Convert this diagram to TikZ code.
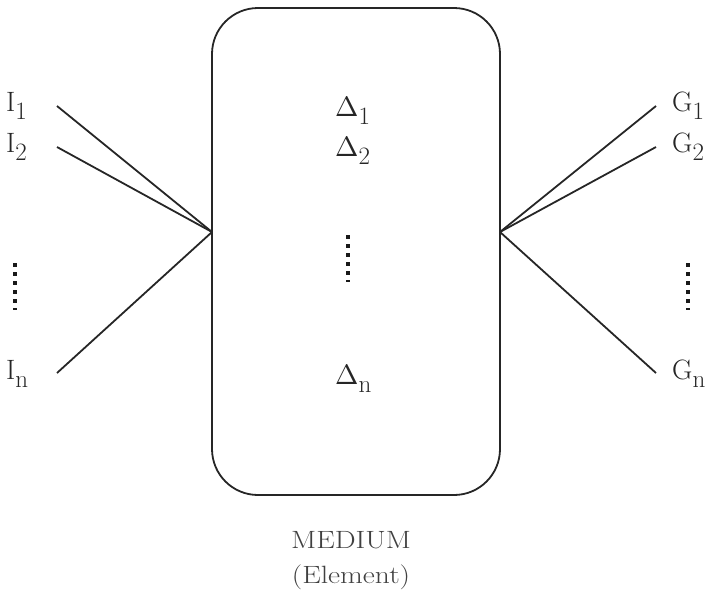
\documentclass[tikz,border=0pt]{standalone}
\usepackage{fontspec}
\usepackage{unicode-math}
\setmathfont{Latin Modern Math}
\newfontfamily\widefont[FakeStretch=1.18]{Latin Modern Roman}
% symbol with a lowered, nearly full-size index
\newcommand{\idx}[2]{#1\raisebox{-8pt}{\fontsize{25}{25}\selectfont #2}}
\begin{document}
\begin{tikzpicture}[x=1pt,y=-1pt,
  lbl/.style={inner sep=0pt, anchor=base west, font=\fontsize{28}{33}\selectfont, text=black!85},
  captext/.style={inner sep=0pt, anchor=base, font=\widefont\fontsize{25}{30}\selectfont, text=black!75},
  wire/.style={line width=1.8pt, black!85},
  vdots/.style={line width=4pt, dash pattern=on 4pt off 5pt, black!90}]
\useasboundingbox (0,0) rectangle (714,595);

% the medium
\draw[line width=1.8pt, black!85, rounded corners=46pt] (212,8) rectangle (500,495);
\coordinate (inJ) at (212,232);
\coordinate (outJ) at (500,232);

% inputs
\coordinate (i1) at (57,106);
\coordinate (i2) at (57,147);
\coordinate (in) at (57,373);
\node[lbl] (I1) at (6,111) {\idx{I}{1}};
\node[lbl] (I2) at (6,152) {\idx{I}{2}};
\node[lbl] (In) at (6,379) {\idx{I}{n}};
\draw[wire] (i1) -- (inJ);
\draw[wire] (i2) -- (inJ);
\draw[wire] (in) -- (inJ);
\draw[vdots] (15,263) -- (15,310);

% outputs
\coordinate (g1) at (656,106);
\coordinate (g2) at (656,147);
\coordinate (gn) at (656,373);
\node[lbl] (G1) at (672,111) {\idx{G}{1}};
\node[lbl] (G2) at (672,152) {\idx{G}{2}};
\node[lbl] (Gn) at (672,379) {\idx{G}{n}};
\draw[wire] (outJ) -- (g1);
\draw[wire] (outJ) -- (g2);
\draw[wire] (outJ) -- (gn);
\draw[vdots] (688,263) -- (688,310);

% inside the medium
\node[lbl] (D1) at (335,116) {\idx{$\mupDelta$}{1}};
\node[lbl] (D2) at (335,156) {\idx{$\mupDelta$}{2}};
\node[lbl] (Dn) at (335,384) {\idx{$\mupDelta$}{n}};
\draw[vdots] (348,235) -- (348,282);

% caption
\node[captext] (med) at (351,548) {MEDIUM};
\node[captext] (elem) at (351,583) {(Element)};
\end{tikzpicture}
\end{document}
